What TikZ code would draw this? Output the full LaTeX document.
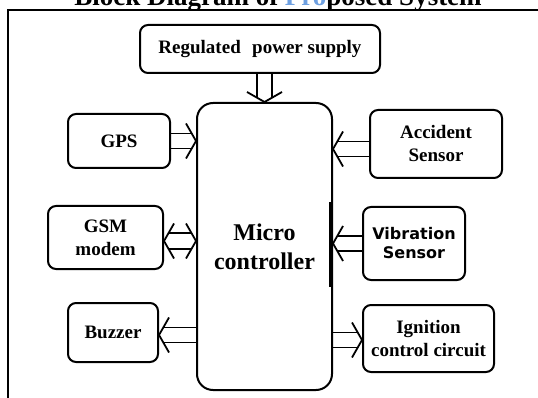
\documentclass[tikz,border=0pt]{standalone}
\usepackage{fontspec}
\setmainfont{Liberation Serif}
\newfontfamily\vibfont{DejaVu Sans}
\usetikzlibrary{calc}
\definecolor{wmblue}{RGB}{110,160,225}
\tikzset{
  blk/.style={draw=black, line width=2pt, rounded corners=8pt, align=center,
    font=\fontsize{19}{23}\selectfont\bfseries, inner sep=0pt},
  conn/.style={draw=black, line width=1.8pt},
}
% hollow (double-line) arrow from #1 to tip #2
\newcommand{\hollowarrow}[2]{%
  \coordinate (ha-s) at (#1);
  \coordinate (ha-t) at (#2);
  \coordinate (ha-b) at ($(ha-t)!10pt!(ha-s)$);
  \coordinate (ha-m) at ($(ha-t)!4.2pt!(ha-s)$);
  \draw[conn] ($(ha-s)!7.5pt!90:(ha-t)$) -- ($(ha-m)!7.5pt!-90:(ha-s)$);
  \draw[conn] ($(ha-s)!7.5pt!-90:(ha-t)$) -- ($(ha-m)!7.5pt!90:(ha-s)$);
  \draw[conn] ($(ha-b)!17.5pt!90:(ha-t)$) -- (ha-t) -- ($(ha-b)!17.5pt!-90:(ha-t)$);
}
% hollow arrow with heads at both ends #1 and #2
\newcommand{\hollowdouble}[2]{%
  \coordinate (hd-s) at (#1);
  \coordinate (hd-t) at (#2);
  \coordinate (hd-b1) at ($(hd-t)!10pt!(hd-s)$);
  \coordinate (hd-m1) at ($(hd-t)!4.2pt!(hd-s)$);
  \coordinate (hd-b0) at ($(hd-s)!10pt!(hd-t)$);
  \coordinate (hd-m0) at ($(hd-s)!4.2pt!(hd-t)$);
  \draw[conn] ($(hd-m0)!8pt!90:(hd-t)$) -- ($(hd-m1)!8pt!-90:(hd-s)$);
  \draw[conn] ($(hd-m0)!8pt!-90:(hd-t)$) -- ($(hd-m1)!8pt!90:(hd-s)$);
  \draw[conn] ($(hd-b1)!17.5pt!90:(hd-t)$) -- (hd-t) -- ($(hd-b1)!17.5pt!-90:(hd-t)$);
  \draw[conn] ($(hd-b0)!17.5pt!90:(hd-s)$) -- (hd-s) -- ($(hd-b0)!17.5pt!-90:(hd-s)$);
}
\begin{document}
\begin{tikzpicture}[x=1pt,y=-1pt]
\clip (0,0) rectangle (538,398);
\fill[white] (0,0) rectangle (538,398);
% title (top cut off by the page edge, as in the reference)
\node[anchor=base, font=\fontsize{27}{30}\selectfont\bfseries, inner sep=0pt] (title) at (278,6)
  {Block Diagram of \textcolor{wmblue}{Pro}posed System};
% outer frame
\draw[line width=1.2pt] (8,420) -- (8,10) -- (560,10);
% blocks
\node[blk, minimum width=240, minimum height=48] (power) at (260,49) {Regulated\hspace{0.35em} power supply};
\node[blk, rounded corners=16pt, minimum width=135, minimum height=287,
      font=\fontsize{24}{29}\selectfont\bfseries] (mc) at (264.5,246.5) {Micro\\controller};
\node[blk, minimum width=102, minimum height=54] (gps) at (119,141) {GPS};
\node[blk, minimum width=115, minimum height=63] (gsm) at (105.5,237.5) {GSM\\modem};
\node[blk, minimum width=90, minimum height=59] (buzzer) at (113,332.5) {Buzzer};
\node[blk, minimum width=132, minimum height=68] (acc) at (436,144) {Accident\\Sensor};
\node[blk, minimum width=102, minimum height=73,
      font=\fontsize{16}{19}\selectfont\vibfont\bfseries] (vib) at (414,243.5) {Vibration\\Sensor};
\node[blk, minimum width=131, minimum height=67] (ign) at (428.5,338.5) {Ignition\\control circuit};
% thick segment on the controller's right side
\draw[line width=2.2pt] ($(mc.east)+(-3,-44)$) -- ($(mc.east)+(-3,40)$);
% connectors
\hollowarrow{mc.north |- power.south}{mc.north}
\hollowarrow{gps.east}{mc.west |- gps.east}
\hollowdouble{$(gsm.east)+(0,3.5)$}{$(mc.west |- gsm.east)+(0,3.5)$}
\hollowarrow{$(mc.west |- buzzer.east)+(0,2.5)$}{$(buzzer.east)+(0,2.5)$}
\hollowarrow{$(acc.west)+(0,5)$}{$(mc.east |- acc.west)+(0,5)$}
\hollowarrow{vib.west}{mc.east |- vib.west}
\hollowarrow{$(mc.east |- ign.west)+(0,1.5)$}{$(ign.west)+(0,1.5)$}
\end{tikzpicture}
\end{document}
